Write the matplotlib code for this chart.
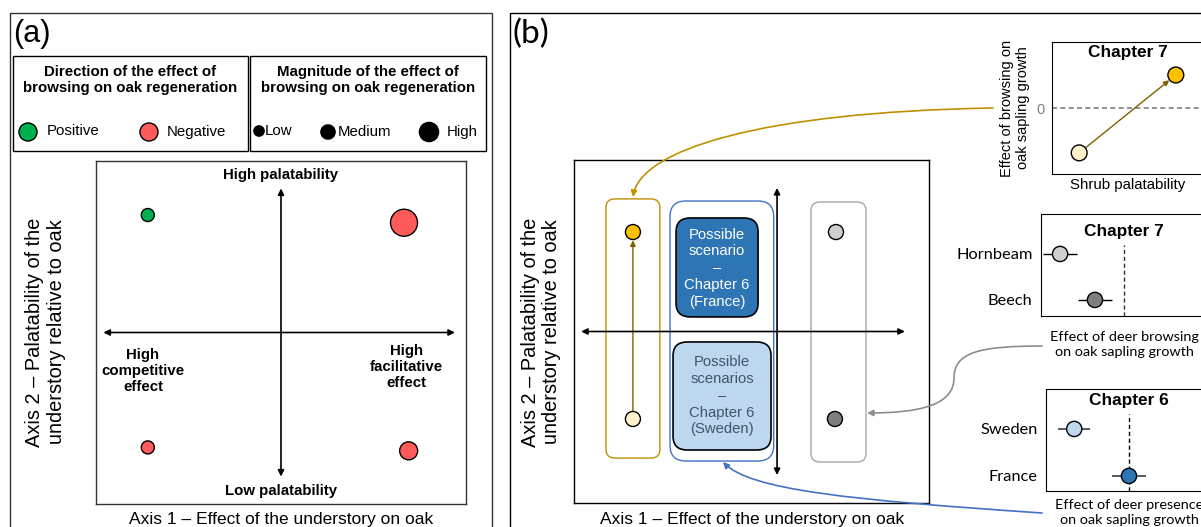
import matplotlib.pyplot as plt
import numpy as np
from matplotlib.patches import Rectangle, FancyBboxPatch, FancyArrowPatch
from matplotlib.path import Path

plt.rcParams['font.family'] = ['Liberation Sans', 'DejaVu Sans']

W, H = 1201, 527

# panel (a): understory types on the two axes (axis 1 = effect on oak, axis 2 = palatability)
a_axis1 = [-0.72, 0.665, -0.72, 0.69]
a_axis2 = [0.685, 0.64, -0.67, -0.69]
a_direction = ['Positive', 'Negative', 'Negative', 'Negative']
a_magnitude = ['Low', 'High', 'Low', 'Medium']

# panel (b): shrub / tree species groups
b_axis1 = [-0.668, -0.668, 0.476, 0.47]
b_axis2 = [0.58, -0.51, 0.58, -0.51]
b_group = ['palatable shrub', 'unpalatable shrub', 'hornbeam', 'beech']

# chapter 7 insets
shrub_pal = [0.18, 0.82]
shrub_effect = [-0.68, 0.5]
species = ['Hornbeam', 'Beech']
species_effect = [-0.77, -0.35]
species_err = [0.2, 0.2]

# chapter 6 inset
countries = ['Sweden', 'France']
country_effect = [-0.66, 0.0]
country_err = [0.19, 0.2]

dir_colors = {'Positive': '#00B050', 'Negative': '#FF5B5B'}
mag_sizes = {'Low': 88, 'Medium': 168, 'High': 378}
group_colors = {'palatable shrub': '#FFC000', 'unpalatable shrub': '#FFF2CC',
                'hornbeam': '#D0CECE', 'beech': '#7F7F7F'}

CAL = ['Lato', 'DejaVu Sans']   # stands in for Calibri
FS = 10.8


def fig_rect(x0, y0, x1, y1):
    return [x0 / W, 1 - y1 / H, (x1 - x0) / W, (y1 - y0) / H]


def arrow2(ax, p0, p1, **kw):
    ax.annotate('', xy=p1, xytext=p0,
                arrowprops=dict(arrowstyle='<|-|>', color='black', lw=1.2,
                                mutation_scale=9, shrinkA=0, shrinkB=0), **kw)


fig = plt.figure(figsize=(W / 100, H / 100), dpi=100)

# ---------------- panel (a) plot
axa = fig.add_axes(fig_rect(96, 161, 466, 504))
axa.set_xlim(-1, 1)
axa.set_ylim(-1, 1)
axa.set_xticks([])
axa.set_yticks([])
for s in axa.spines.values():
    s.set_linewidth(1.0)
    s.set_color('#333333')
arrow2(axa, (-0.96, 0), (0.94, 0))
arrow2(axa, (0, -0.84), (0, 0.84))
axa.scatter(a_axis1, a_axis2, s=[mag_sizes[m] for m in a_magnitude],
            c=[dir_colors[d] for d in a_direction], edgecolors='black',
            linewidths=1, zorder=3)
axa.text(0, 0.918, 'High palatability', ha='center', va='center',
         fontsize=FS, fontweight='bold')
axa.text(0, -0.924, 'Low palatability', ha='center', va='center',
         fontsize=FS, fontweight='bold')
axa.text(-0.746, -0.224, 'High\ncompetitive\neffect', ha='center', va='center',
         fontsize=FS, fontweight='bold', linespacing=1.2)
axa.text(0.676, -0.2, 'High\nfacilitative\neffect', ha='center', va='center',
         fontsize=FS, fontweight='bold', linespacing=1.2)

# ---------------- panel (b) plot
axb = fig.add_axes(fig_rect(574, 160, 929, 503))
axb.set_xlim(-1, 1)
axb.set_ylim(-1, 1)
axb.set_xticks([])
axb.set_yticks([])
for s in axb.spines.values():
    s.set_linewidth(1.0)
    s.set_color('black')

def rbox(ax, x0, y0, x1, y1, r, **kw):
    p = FancyBboxPatch((x0, y0), x1 - x0, y1 - y0,
                       boxstyle='round,pad=0,rounding_size=%f' % r, **kw)
    ax.add_patch(p)

rbox(axb, -0.82, -0.738, -0.516, 0.773, 0.05, fc='none', ec='#BF9000', lw=1)
rbox(axb, -0.459, -0.755, 0.125, 0.761, 0.09, fc='none', ec='#4472C4', lw=1)
rbox(axb, 0.335, -0.761, 0.645, 0.755, 0.05, fc='none', ec='#A6A6A6', lw=1)
rbox(axb, -0.425, 0.085, 0.037, 0.662, 0.08, fc='#2E75B6', ec='black', lw=1.2, zorder=3)
rbox(axb, -0.442, -0.691, 0.110, -0.061, 0.08, fc='#BDD7EE', ec='black', lw=1.2, zorder=3)
axb.text(-0.194, 0.37, 'Possible\nscenario\n\u2013\nChapter 6\n(France)', ha='center',
         va='center', color='white', fontsize=10.7, linespacing=1.25, zorder=4)
axb.text(-0.166, -0.376, 'Possible\nscenarios\n\u2013\nChapter 6\n(Sweden)', ha='center',
         va='center', color='#44546A', fontsize=10.7, linespacing=1.25, zorder=4)
arrow2(axb, (-0.96, 0), (0.864, 0))
arrow2(axb, (0.144, -0.837), (0.144, 0.837))
axb.annotate('', xy=(b_axis1[0], b_axis2[0]), xytext=(b_axis1[1], b_axis2[1]),
             arrowprops=dict(arrowstyle='-|>', color='#7F6000', lw=1,
                             mutation_scale=8, shrinkA=6, shrinkB=6), zorder=2)
axb.scatter(b_axis1, b_axis2, s=117, c=[group_colors[g] for g in b_group],
            edgecolors='black', linewidths=1, zorder=3)

# ---------------- inset: chapter 7 shrub palatability
ax1 = fig.add_axes(fig_rect(1052, 42, 1203, 174))
ax1.set_xlim(0, 1)
ax1.set_ylim(-1, 1)
ax1.axhline(0, color='#7F7F7F', lw=1.2, ls=(0, (3, 2)))
ax1.annotate('', xy=(shrub_pal[1], shrub_effect[1]), xytext=(shrub_pal[0], shrub_effect[0]),
             arrowprops=dict(arrowstyle='-|>', color='#7F6000', lw=1,
                             mutation_scale=8, shrinkA=6, shrinkB=6))
ax1.scatter(shrub_pal, shrub_effect, s=130, c=['#FFF2CC', '#FFC000'],
            edgecolors='black', linewidths=1, zorder=3)
ax1.set_xticks([])
ax1.set_yticks([0])
ax1.set_yticklabels(['0'], color='#7F7F7F', fontsize=10.5)
ax1.tick_params(length=0, pad=5)
ax1.set_xlabel('Shrub palatability', fontsize=FS, labelpad=3)
ax1.set_ylabel('Effect of browsing on\noak sapling growth', fontsize=10.5,
               labelpad=5, linespacing=1.15)
ax1.text(0.5, 0.917, 'Chapter 7', transform=ax1.transAxes, ha='center',
         va='center', fontsize=12.4, fontweight='bold')

# ---------------- inset: chapter 7 species
ax2 = fig.add_axes(fig_rect(1041, 214, 1207, 316))
ax2.set_xlim(-1, 1)
ax2.set_ylim(-0.35, 1.87)
ax2.plot([0, 0], [-0.35, 1.196], color='#333333', lw=1, ls=(0, (3, 2)))
ax2.errorbar(species_effect, [1, 0], xerr=species_err, fmt='none',
             ecolor='black', elinewidth=1, capsize=0)
ax2.scatter(species_effect, [1, 0], s=120, c=['#D0CECE', '#7F7F7F'],
            edgecolors='black', linewidths=1, zorder=3)
ax2.set_xticks([])
ax2.set_yticks([1, 0])
ax2.set_yticklabels(species, fontsize=11.8, family=CAL)
ax2.tick_params(length=0, pad=6)
ax2.set_xlabel('Effect of deer browsing\non oak sapling growth', fontsize=10.4,
               family=CAL, labelpad=11, linespacing=1.3)
ax2.text(0.5, 0.833, 'Chapter 7', transform=ax2.transAxes, ha='center',
         va='center', fontsize=12.4, fontweight='bold')

# ---------------- inset: chapter 6 countries
ax3 = fig.add_axes(fig_rect(1046, 389, 1212, 491))
ax3.set_xlim(-1, 1)
ax3.set_ylim(-0.32, 1.85)
ax3.plot([0, 0], [-0.32, 1.32], color='black', lw=1, ls=(0, (3, 2)))
ax3.errorbar(country_effect, [1, 0], xerr=country_err, fmt='none',
             ecolor='#404040', elinewidth=1.2, capsize=0)
ax3.scatter(country_effect, [1, 0], s=120, c=['#BDD7EE', '#2E75B6'],
            edgecolors='black', linewidths=1, zorder=3)
ax3.set_xticks([])
ax3.set_yticks([1, 0])
ax3.set_yticklabels(countries, fontsize=11.8, family=CAL)
ax3.tick_params(length=0, pad=6)
ax3.set_xlabel('Effect of deer presence\non oak sapling growth', fontsize=10.4,
               family=CAL, labelpad=6, linespacing=1.3)
ax3.text(0.5, 0.89, 'Chapter 6', transform=ax3.transAxes, ha='center',
         va='center', fontsize=12.4, fontweight='bold')

# ---------------- overlay in pixel units: frames, legend, labels, connectors
ov = fig.add_axes([0, 0, 1, 1])
ov.set_xlim(0, W)
ov.set_ylim(H, 0)
ov.axis('off')
ov.patch.set_alpha(0)
ov.set_zorder(10)

ov.add_patch(Rectangle((10, 13), 482, 600, fc='none', ec='#333333', lw=1))
ov.add_patch(Rectangle((510, 13), 800, 600, fc='none', ec='black', lw=1))
ov.add_patch(Rectangle((13, 56), 235, 95, fc='none', ec='black', lw=1))
ov.add_patch(Rectangle((250, 56), 236, 95, fc='none', ec='black', lw=1))

ov.text(13, 34, '(a)', fontsize=22, va='center', ha='left')
ov.text(512, 34, '(b)', fontsize=24, va='center', ha='left', family=CAL)

ov.text(130.5, 80, 'Direction of the effect of\nbrowsing on oak regeneration',
        ha='center', va='center', fontsize=FS, fontweight='bold', linespacing=1.2)
ov.text(368, 80, 'Magnitude of the effect of\nbrowsing on oak regeneration',
        ha='center', va='center', fontsize=FS, fontweight='bold', linespacing=1.2)
ov.scatter([28, 149], [132, 132], s=169, c=[dir_colors['Positive'], dir_colors['Negative']],
           edgecolors='black', linewidths=1)
ov.text(47, 131, 'Positive', va='center', fontsize=FS)
ov.text(167, 132, 'Negative', va='center', fontsize=FS)
ov.scatter([259, 328, 429], [131, 132, 132], s=[55, 105, 190], c='black')
ov.text(265, 131, 'Low', va='center', fontsize=FS)
ov.text(338, 132, 'Medium', va='center', fontsize=FS)
ov.text(447, 132, 'High', va='center', fontsize=FS)

for cx, ylab, xlab_x in [(45.5, 332, 281), (541, 332, 752)]:
    ov.text(cx, ylab, 'Axis 2 \u2013 Palatability of the\nunderstory relative to oak',
            rotation=90, ha='center', va='center', fontsize=14.4, linespacing=1.15)
    ov.text(xlab_x, 512, 'Axis 1 \u2013 Effect of the understory on oak',
            ha='center', va='top', fontsize=12.5)

# connectors from the insets to panel (b)
gold = Path([(993, 108), (760, 112), (640, 150), (633, 197)],
            [Path.MOVETO, Path.CURVE4, Path.CURVE4, Path.CURVE4])
ov.add_patch(FancyArrowPatch(path=gold, arrowstyle='-|>', mutation_scale=9,
                             color='#BF9000', lw=1.2))
grey = Path([(1042, 346), (980, 346), (954, 352), (954, 378),
             (954, 405), (920, 413), (867, 413)],
            [Path.MOVETO, Path.CURVE4, Path.CURVE4, Path.CURVE4,
             Path.CURVE4, Path.CURVE4, Path.CURVE4])
ov.add_patch(FancyArrowPatch(path=grey, arrowstyle='-|>', mutation_scale=9,
                             color='#8C8C8C', lw=1.2))
blue = Path([(1042, 513), (850, 500), (750, 490), (723, 462)],
            [Path.MOVETO, Path.CURVE4, Path.CURVE4, Path.CURVE4])
ov.add_patch(FancyArrowPatch(path=blue, arrowstyle='-|>', mutation_scale=9,
                             color='#4472C4', lw=1.2))

fig.savefig('out.png', dpi=100)
